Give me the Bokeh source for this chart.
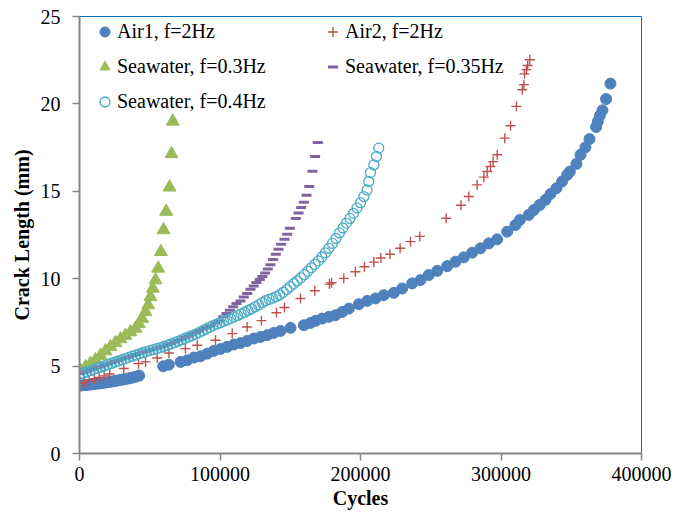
from bokeh.plotting import figure
from bokeh.models import Range1d, Legend, BasicTickFormatter, FixedTicker
from bokeh.embed import file_html
from bokeh.resources import INLINE

# ---------------- data ----------------
air1_cycles = [0, 2000, 4000, 6000, 8000, 10000, 12000, 14000, 16000, 18000, 20000,
               22000, 24000, 26000, 28000, 30000, 32000, 34000, 36000, 38000, 40000, 42500,
               59600, 63600, 71900, 76600, 81400, 86100, 90900, 95600, 100400, 105100,
               109800, 114600, 119300, 124100, 128800, 133600, 138300, 143100, 150200,
               159700, 164400, 168000, 172700, 177500, 182200, 187000, 191700, 198800,
               204800, 210700, 216600, 223700, 229700, 236800, 242700, 248600, 254600,
               261700, 267600, 273500, 279500, 285400, 291300, 297300, 304400, 310300,
               313400, 319800, 323400, 327600, 331700, 335200, 339500, 343500, 347100,
               349000, 353700, 356600, 360100, 363000, 367700, 368900, 370300, 372200,
               374800, 377900]
air1_mm = [3.88, 3.90, 3.91, 3.93, 3.95, 3.97, 3.99, 4.01, 4.03, 4.05, 4.08,
           4.10, 4.13, 4.16, 4.19, 4.22, 4.25, 4.28, 4.31, 4.35, 4.39, 4.46,
           4.99, 5.08, 5.24, 5.33, 5.49, 5.56, 5.71, 5.87, 5.98, 6.10,
           6.23, 6.32, 6.44, 6.58, 6.67, 6.77, 6.90, 7.01, 7.19,
           7.34, 7.47, 7.59, 7.72, 7.82, 7.91, 8.10, 8.29, 8.54,
           8.73, 8.87, 9.06, 9.19, 9.44, 9.73, 9.92, 10.21, 10.45,
           10.72, 10.97, 11.22, 11.49, 11.74, 12.02, 12.25, 12.69, 13.07,
           13.36, 13.65, 13.93, 14.22, 14.51, 14.85, 15.18, 15.56, 15.94,
           16.13, 16.57, 17.09, 17.51, 17.99, 18.68, 19.00, 19.32, 19.63,
           20.28, 21.16]

air2_cycles = [0, 3500, 7000, 10500, 14000, 17500, 21500, 31500, 42000, 47000, 55300,
               63600, 75400, 83800, 96800, 108700, 119300, 129500, 140200, 145900,
               157300, 167500, 177900, 179400, 188100, 196400, 202800, 209500, 214500,
               221000, 228200, 235600, 242200, 261000, 271500, 277100, 283000, 287800,
               290200, 292500, 294400, 297300, 302700, 306800, 311000, 315100, 316300,
               316700, 318100, 319000, 320500]
air2_mm = [4.00, 4.07, 4.17, 4.26, 4.35, 4.44, 4.55, 4.86, 5.14, 5.24, 5.46,
           5.75, 6.00, 6.19, 6.48, 6.86, 7.24, 7.60, 8.05, 8.35,
           8.87, 9.31, 9.69, 9.77, 10.02, 10.40, 10.68, 10.95, 11.18,
           11.40, 11.74, 12.12, 12.42, 13.46, 14.20, 14.70, 15.37, 15.81,
           16.13, 16.42, 16.70, 17.09, 18.04, 18.75, 19.86, 20.81, 21.10,
           21.72, 21.96, 22.20, 22.53]

sw03_cycles = [700, 4300, 7800, 11400, 14900, 18500, 22100, 25600, 29200, 32700,
               36300, 39900, 42200, 44600, 47000, 48900, 50500, 52200, 54100, 56000,
               57900, 59800, 61700, 64100, 65500, 66400]
sw03_mm = [4.76, 4.95, 5.14, 5.35, 5.60, 5.86, 6.10, 6.33, 6.55, 6.75,
           6.95, 7.15, 7.42, 7.72, 8.10, 8.49, 8.96, 9.44, 9.92, 10.59,
           11.54, 12.79, 13.84, 15.23, 17.14, 19.00]

sw035_cycles = [0, 2500, 5000, 7500, 10000, 12500, 15000, 17500, 20000, 22500, 25000,
                27500, 30000, 32500, 35000, 37500, 40000, 42500, 45000, 47500, 50000,
                52500, 55000, 57500, 60000, 62500, 65000, 67500, 70000, 72500, 75000,
                77500, 80000, 82500, 85000, 88000, 90400, 93200, 96600, 99400, 102300,
                104600, 107000, 109400, 111700, 114600, 116900, 119300, 121700, 124000,
                125900, 128300, 130200, 132100, 134000, 135900, 137800, 139700, 141600,
                143500, 145900, 147800, 149700, 154000, 155900, 157800, 159700, 161600,
                163500, 165800, 167700, 169600]
sw035_mm = [4.58, 4.63, 4.70, 4.77, 4.84, 4.91, 4.98, 5.05, 5.12, 5.19, 5.26,
            5.33, 5.40, 5.47, 5.54, 5.61, 5.67, 5.74, 5.80, 5.86, 5.92,
            5.97, 6.03, 6.09, 6.15, 6.22, 6.30, 6.38, 6.46, 6.54, 6.63,
            6.72, 6.82, 6.91, 7.00, 7.12, 7.20, 7.30, 7.46, 7.60, 7.82,
            8.01, 8.20, 8.39, 8.58, 8.73, 8.96, 9.16, 9.39, 9.58,
            9.78, 9.95, 10.12, 10.32, 10.55, 10.80, 11.10, 11.40, 11.68,
            11.97, 12.25, 12.54, 12.88, 13.44, 13.76, 14.07, 14.38, 14.78,
            15.27, 16.15, 16.99, 17.79]

sw04_cycles = [0, 2500, 5000, 7500, 10000, 12500, 15000, 17500, 20000, 22500, 25000,
               27500, 30000, 32500, 35000, 37500, 40000, 42500, 45000, 47500, 50000,
               52500, 55000, 57500, 60000, 62500, 65000, 67500, 70000, 72500, 75000,
               77500, 80000, 82500, 85000, 87500, 90000, 92500, 95000, 97500, 100000,
               102500, 105000, 107500, 110000, 112500, 115000, 117500, 120000, 122500,
               125000, 127500, 130000, 132500, 135000, 137500, 140000, 142500, 145000,
               147500, 150000, 152500, 155000, 157500, 160000, 162500, 165000, 167500,
               170000, 172500, 175000, 177500, 180000, 182500, 185000, 187500, 190000,
               192500, 195000, 197500, 200000, 202400, 204700, 205900, 207100, 209500,
               211400, 213000]
sw04_mm = [4.55, 4.60, 4.66, 4.74, 4.81, 4.87, 4.94, 5.01, 5.08, 5.15, 5.22,
           5.29, 5.36, 5.43, 5.50, 5.57, 5.63, 5.70, 5.77, 5.83, 5.89,
           5.94, 6.00, 6.06, 6.12, 6.18, 6.26, 6.34, 6.42, 6.50, 6.58,
           6.66, 6.74, 6.82, 6.92, 7.02, 7.12, 7.22, 7.32, 7.40, 7.48,
           7.56, 7.64, 7.72, 7.82, 7.90, 7.99, 8.08, 8.18, 8.28,
           8.39, 8.50, 8.63, 8.74, 8.82, 8.89, 8.97, 9.08, 9.22,
           9.38, 9.55, 9.72, 9.88, 10.05, 10.23, 10.42, 10.62, 10.82,
           11.02, 11.24, 11.48, 11.74, 12.02, 12.30, 12.62, 12.90, 13.18,
           13.45, 13.74, 14.05, 14.35, 14.70, 15.08, 15.56, 16.07, 16.51,
           16.99, 17.47]

x_ticks = [0, 100000, 200000, 300000, 400000]
y_ticks = [0, 5, 10, 15, 20, 25]

# ---------------- figure ----------------
SERIF = "'Liberation Serif', 'Times New Roman', serif"
GRAY = "#868686"

p = figure(width=675, height=515, output_backend="svg", toolbar_location=None,
           x_range=Range1d(0, 400000), y_range=Range1d(0, 25),
           min_border_left=79, min_border_right=34, min_border_top=16, min_border_bottom=62)
p.background_fill_color = "white"
p.border_fill_color = "white"
p.xgrid.grid_line_color = None
p.ygrid.grid_line_color = None
p.outline_line_color = "#0070C0"
p.outline_line_width = 1

r_air1 = p.scatter(air1_cycles, air1_mm, marker="circle", size=11,
                   fill_color="#4F81BD", line_color="#4F81BD")
r_air2 = p.scatter(air2_cycles, air2_mm, marker="cross", size=10, line_width=1.4,
                   line_color="#C0504D")
r_g = p.scatter(sw03_cycles, sw03_mm, marker="triangle", size=13,
                fill_color="#9BBB59", line_color="#9BBB59")
r_p = p.scatter(sw035_cycles, sw035_mm, marker="dash", size=10, line_width=3,
                line_color="#8064A2")
r_c = p.scatter(sw04_cycles, sw04_mm, marker="circle", size=10, line_width=1.3,
                fill_alpha=0, line_color="#4BACC6")

for ax in (p.xaxis[0], p.yaxis[0]):
    ax.axis_line_color = GRAY
    ax.axis_line_width = 2
    ax.major_tick_line_color = GRAY
    ax.major_tick_line_width = 1.5
    ax.major_tick_out = 7
    ax.major_tick_in = 0
    ax.minor_tick_line_color = None
    ax.major_label_text_font = SERIF
    ax.major_label_text_font_size = "20px"
    ax.major_label_text_color = "black"
    ax.axis_label_text_font = SERIF
    ax.axis_label_text_font_size = "20px"
    ax.axis_label_text_font_style = "bold"
    ax.axis_label_text_color = "black"

p.xaxis.ticker = FixedTicker(ticks=x_ticks)
p.yaxis.ticker = FixedTicker(ticks=y_ticks)
p.xaxis.formatter = BasicTickFormatter(use_scientific=False)
p.xaxis.axis_label = "Cycles"
p.yaxis.axis_label = "Crack Length (mm)"
p.xaxis.major_label_standoff = 6
p.xaxis.axis_label_standoff = 3
p.yaxis.major_label_standoff = 12
p.yaxis.axis_label_standoff = 5

common = dict(padding=0, margin=0, spacing=10, glyph_width=25, glyph_height=25,
              label_height=25, label_standoff=0, label_text_font=SERIF,
              label_text_font_size="20px", label_text_color="black",
              border_line_alpha=0, background_fill_alpha=0)
leg1 = Legend(items=[("Air1, f=2Hz", [r_air1]), ("Seawater, f=0.3Hz", [r_g]),
                     ("Seawater, f=0.4Hz", [r_c])], location=(13, 339), **common)
leg2 = Legend(items=[("Air2, f=2Hz", [r_air2]), ("Seawater, f=0.35Hz", [r_p])],
              location=(241, 374), **common)
p.add_layout(leg1)
p.add_layout(leg2)

open("out.html", "w").write(file_html(p, INLINE))
